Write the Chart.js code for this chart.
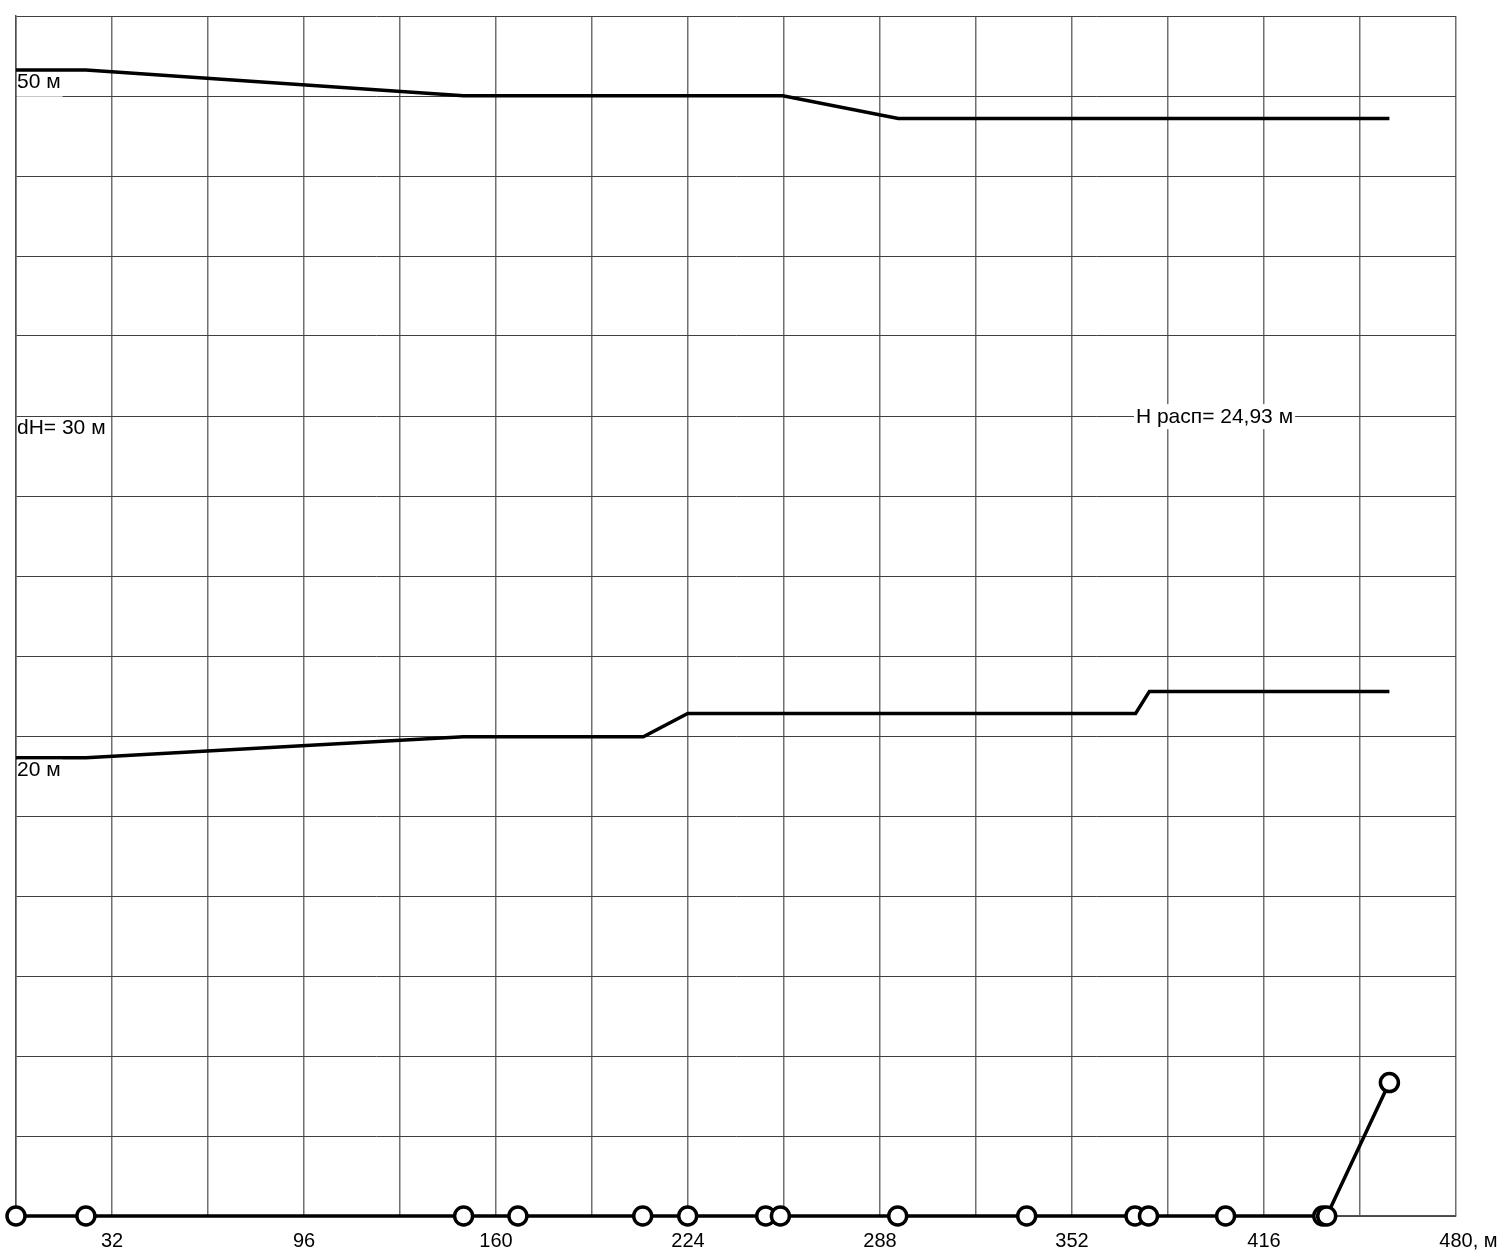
<!DOCTYPE html>
<html>
<head>
<meta charset="utf-8">
<script src="https://cdn.jsdelivr.net/npm/chart.js@4.4.1/dist/chart.umd.min.js"></script>
<style>
    html, body { margin: 0; padding: 0; background: #fff; }
    canvas { display: block; }
</style>
</head>
<body>
<canvas id="profile" width="1508" height="1258"></canvas>
<script>
// Distances of the nodes along the route, m
const nodeDist = [0, 23.3, 149.2, 167.3, 208.9, 223.9, 249.9, 254.8, 293.9, 336.9, 373, 377.5, 403.2, 435.6, 436.9, 457.8];
// Node levels (bottom line with circles), m
const nodeLevel = [0, 0, 0, 0, 0, 0, 0, 0, 0, 0, 0, 0, 0, 0, 0, 5.82];

// Upper pressure line
const upperDist = [0, 23.3, 149.2, 255.6, 294.1, 457.8];
const upperLevel = [50, 50, 48.88, 48.88, 47.89, 47.89];

// Lower pressure line
const lowerDist = [0, 23.3, 149.2, 209.1, 223.9, 373.2, 377.8, 457.8];
const lowerLevel = [20, 20, 20.91, 20.91, 21.93, 21.93, 22.89, 22.89];

// Axes
const xMax = 480;
const xStep = 32;
const xUnit = ', м';
const yMax = 52.36;
const yRows = 15;

// Text notes
const noteText = ['50 м', 'dH= 30 м', '20 м'];
const noteLevel = [50, 34.9, 20];
const headText = 'H расп= 24,93 м';
const headDist = 399.5;
const headLevel = 34.9;

const FONT_FAMILY = '"Liberation Sans", Arial, sans-serif';
const NOTE_FONT = '21px ' + FONT_FAMILY;

function toPoints(xs, ys) {
    return xs.map((x, i) => ({ x: x, y: ys[i] }));
}

const notesPlugin = {
    id: 'notes',
    afterDatasetsDraw(chart) {
        const ctx = chart.ctx;
        const xs = chart.scales.x;
        const ys = chart.scales.y;
        ctx.save();
        ctx.font = NOTE_FONT;

        // labels at the left edge
        noteText.forEach((t, i) => {
            const px = xs.getPixelForValue(0) + 1;
            const py = ys.getPixelForValue(noteLevel[i]) + 2;
            const w = ctx.measureText(t).width;
            ctx.fillStyle = 'rgba(255,255,255,0.7)';
            ctx.fillRect(px, py, w + 2, 25);
            ctx.fillStyle = '#000';
            ctx.textBaseline = 'top';
            ctx.textAlign = 'left';
            ctx.fillText(t, px, py);
        });

        // available head label, on white
        const hx = xs.getPixelForValue(headDist);
        const hy = ys.getPixelForValue(headLevel);
        const hw = ctx.measureText(headText).width;
        ctx.fillStyle = '#fff';
        ctx.fillRect(hx - hw / 2 - 2, hy - 12, hw + 4, 25);
        ctx.fillStyle = '#000';
        ctx.textAlign = 'center';
        ctx.textBaseline = 'middle';
        ctx.fillText(headText, hx, hy + 1);

        // unit after the last x tick
        ctx.font = '20px ' + FONT_FAMILY;
        const lx = xs.getPixelForValue(xMax);
        const lw = ctx.measureText(String(xMax)).width;
        ctx.textAlign = 'left';
        ctx.fillText(xUnit, lx + lw / 2, xs.top + 13 + 12);
        ctx.restore();
    }
};

Chart.defaults.font.family = FONT_FAMILY;
Chart.defaults.color = '#000';

new Chart(document.getElementById('profile'), {
    type: 'line',
    data: {
        datasets: [
            {
                label: 'nodes',
                data: toPoints(nodeDist, nodeLevel),
                borderColor: '#000',
                borderWidth: 3.5,
                pointRadius: 9,
                pointBorderWidth: 3.5,
                pointBackgroundColor: '#fff',
                pointBorderColor: '#000',
                clip: false
            },
            {
                label: 'upper',
                data: toPoints(upperDist, upperLevel),
                borderColor: '#000',
                borderWidth: 3.5,
                pointRadius: 0,
                clip: false
            },
            {
                label: 'lower',
                data: toPoints(lowerDist, lowerLevel),
                borderColor: '#000',
                borderWidth: 3.5,
                pointRadius: 0,
                clip: false
            }
        ]
    },
    options: {
        responsive: false,
        animation: false,
        layout: {
            padding: { left: 16, top: 16, right: 52, bottom: 5 }
        },
        plugins: {
            legend: { display: false },
            tooltip: { enabled: false }
        },
        scales: {
            x: {
                type: 'linear',
                min: 0,
                max: xMax,
                grid: { color: '#707070', lineWidth: 1.5, drawTicks: false },
                border: { color: '#505050', width: 1.5 },
                ticks: {
                    stepSize: xStep,
                    autoSkip: false,
                    maxRotation: 0,
                    padding: 13,
                    font: { size: 20 },
                    callback: v => (v % (2 * xStep) === xStep || v === xMax) ? String(v) : ''
                },
                afterFit: scale => { scale.height = 37; }
            },
            y: {
                type: 'linear',
                min: 0,
                max: yMax,
                grid: { color: '#404040', lineWidth: 1, drawTicks: false },
                border: { color: '#505050', width: 1.5 },
                ticks: { display: false },
                afterBuildTicks: axis => {
                    axis.ticks = Array.from({ length: yRows + 1 }, (_, i) => ({ value: yMax * i / yRows }));
                }
            }
        }
    },
    plugins: [notesPlugin]
});
</script>
</body>
</html>
